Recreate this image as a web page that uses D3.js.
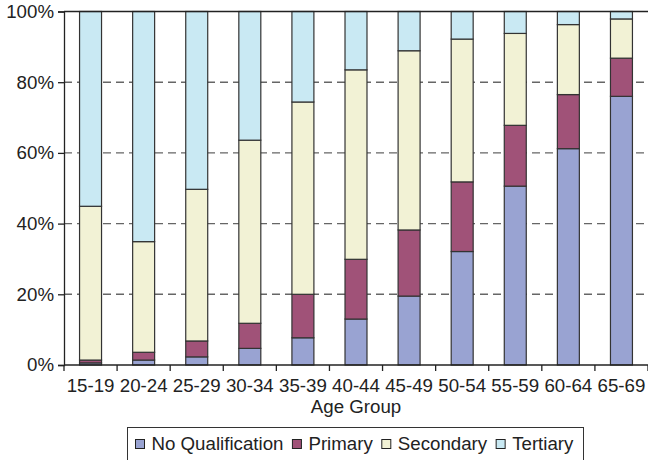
<!DOCTYPE html>
<html>
<head>
<meta charset="utf-8">
<script src="https://cdn.jsdelivr.net/npm/d3@7"></script>
<style>
  html, body { margin: 0; padding: 0; background: #fff; }
  svg { display: block; font-family: "Liberation Sans", Arial, sans-serif; }
</style>
</head>
<body>
<svg id="chart" width="648" height="460"></svg>
<script>
const categories = ["15-19","20-24","25-29","30-34","35-39","40-44","45-49","50-54","55-59","60-64","65-69"];
const seriesNames = ["No Qualification","Primary","Secondary","Tertiary"];
const noQualification = [0.6, 1.4, 2.3, 4.7, 7.7, 13.0, 19.5, 32.1, 50.6, 61.2, 76.0];
const primary        = [0.8, 2.2, 4.5, 7.1, 12.3, 16.9, 18.7, 19.7, 17.2, 15.3, 10.8];
const secondary      = [43.5, 31.3, 42.9, 51.8, 54.4, 53.6, 50.7, 40.4, 26.0, 19.8, 11.1];
const tertiary       = [55.1, 65.1, 50.3, 36.4, 25.6, 16.5, 11.1, 7.8, 6.2, 3.7, 2.1];
const yTicks = [0, 20, 40, 60, 80, 100];
const colors = ["#99a3d2", "#a05278", "#f2f2d5", "#c9e9f3"];

const FS = 18.7;
const svg = d3.select("#chart");
const margin = {left: 64, right: 0};
const W = 648;
const x = d3.scaleBand().domain(categories).range([margin.left, W - margin.right])
  .paddingInner(0.586).paddingOuter(0.293);
const y = d3.scaleLinear().domain([0, 100]).range([365, 11.5]);

const rows = categories.map((c, i) => ({
  cat: c, "No Qualification": noQualification[i], "Primary": primary[i],
  "Secondary": secondary[i], "Tertiary": tertiary[i]
}));
const stack = d3.stack().keys(seriesNames)(rows);

// gridlines
svg.append("g").selectAll("line").data(yTicks.filter(t => t > 0 && t < 100)).join("line")
  .attr("x1", margin.left).attr("x2", W)
  .attr("y1", d => y(d)).attr("y2", d => y(d))
  .attr("stroke", "#666").attr("stroke-width", 1.4).attr("stroke-dasharray", "8,5");

// bars
svg.append("g").selectAll("g").data(stack).join("g")
  .attr("fill", (d, i) => colors[i])
  .selectAll("rect").data(d => d).join("rect")
  .attr("x", d => x(d.data.cat))
  .attr("width", x.bandwidth())
  .attr("y", d => y(d[1]))
  .attr("height", d => y(d[0]) - y(d[1]))
  .attr("stroke", "#333").attr("stroke-width", 1.2);

// top line (100%)
svg.append("line").attr("x1", margin.left).attr("x2", W)
  .attr("y1", y(100)).attr("y2", y(100)).attr("stroke", "#222").attr("stroke-width", 1.3);

// y axis
const yAxis = d3.axisLeft(y).tickValues(yTicks).tickFormat(d => d + "%").tickSize(6).tickPadding(4);
const gy = svg.append("g").attr("transform", `translate(${margin.left},0)`).call(yAxis);
gy.select(".domain").attr("stroke", "#222").attr("stroke-width", 1.3);
gy.selectAll(".tick line").attr("stroke", "#222").attr("stroke-width", 1.3);
gy.selectAll("text").attr("font-size", FS).attr("fill", "#222")
  .attr("font-family", "Liberation Sans, Arial, sans-serif");

// x axis
const step = x.step();
const gx = svg.append("g").attr("transform", `translate(0,${y(0)})`);
gx.append("line").attr("x1", margin.left).attr("x2", W).attr("y1", 0).attr("y2", 0)
  .attr("stroke", "#222").attr("stroke-width", 1.3);
const boundaries = categories.map(c => x(c) - x.paddingInner() * step / 2).concat([W]);
gx.selectAll("line.tk").data(boundaries).join("line").attr("class", "tk")
  .attr("x1", d => d).attr("x2", d => d).attr("y1", 0).attr("y2", 6)
  .attr("stroke", "#222").attr("stroke-width", 1.3);
gx.selectAll("text").data(categories).join("text")
  .attr("x", d => x(d) + x.bandwidth() / 2).attr("y", 27)
  .attr("text-anchor", "middle").attr("font-size", FS).attr("fill", "#222")
  .text(d => d);

svg.append("text").attr("x", (margin.left + W) / 2).attr("y", 413)
  .attr("text-anchor", "middle").attr("font-size", FS).attr("fill", "#222")
  .text("Age Group");

// legend
const lg = svg.append("g");
lg.append("rect").attr("x", 127.5).attr("y", 427.5).attr("width", 456).attr("height", 40)
  .attr("fill", "#fff").attr("stroke", "#333").attr("stroke-width", 1);
let lx = 135.5;
seriesNames.forEach((name, i) => {
  lg.append("rect").attr("x", lx).attr("y", 439.5).attr("width", 9).attr("height", 9)
    .attr("fill", colors[i]).attr("stroke", "#222").attr("stroke-width", 1);
  const t = lg.append("text").attr("x", lx + 16).attr("y", 450)
    .attr("font-size", FS).attr("fill", "#222").text(name);
  lx += 16 + t.node().getComputedTextLength() + 9;
});
</script>
</body>
</html>
